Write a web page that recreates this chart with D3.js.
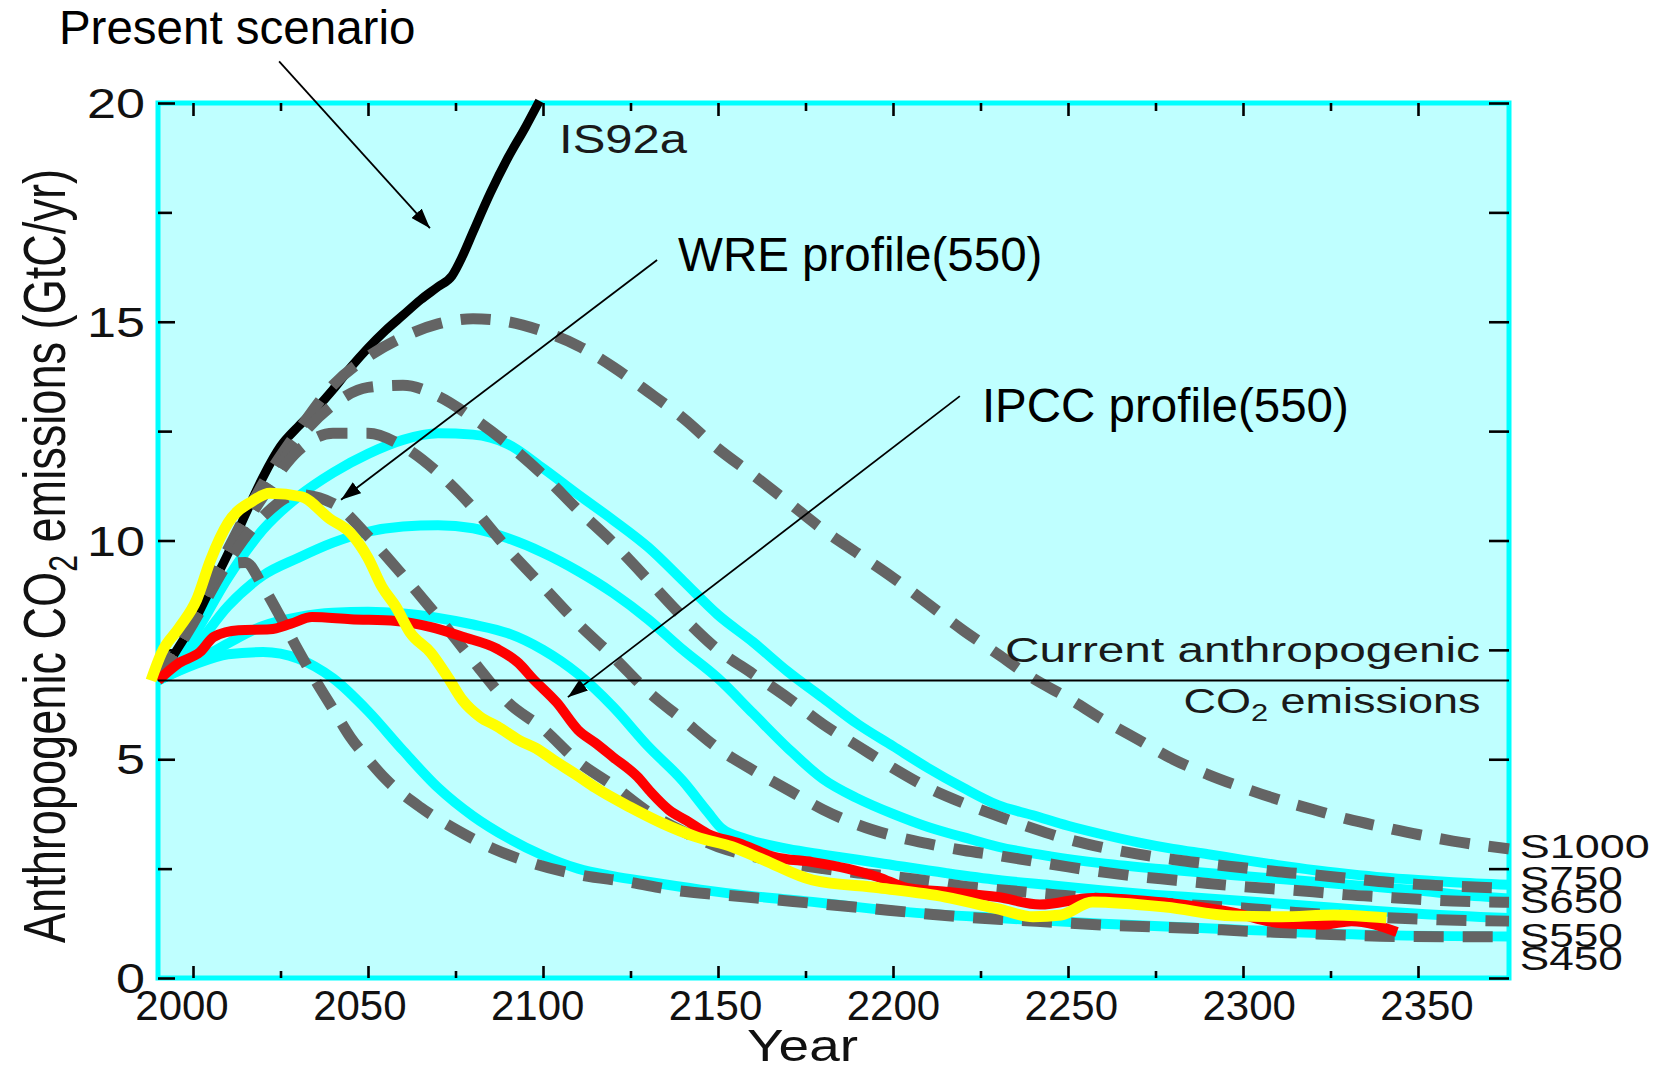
<!DOCTYPE html>
<html>
<head>
<meta charset="utf-8">
<script src="https://cdn.jsdelivr.net/npm/d3@7"></script>
<style>
  body { margin: 0; background: #ffffff; }
  svg { display: block; font-family: "Liberation Sans", Arial, Helvetica, sans-serif; }
</style>
</head>
<body>
<div id="chart"></div>
<script>
// values: [year, GtC/yr]

var is92a = [[1990,6.8],[1995,7.45],[2000,8.1],[2005,8.9],[2010,9.7],[2015,10.6],[2020,11.45],[2025,12.15],
  [2030,12.6],[2035,13.0],[2040,13.45],[2045,13.95],[2050,14.4],[2055,14.8],[2060,15.15],[2065,15.5],
  [2070,15.8],[2074,16.05],[2077,16.5],[2080,17.05],[2085,17.95],[2090,18.75],[2095,19.45],[2099,20.05]];

var s1000 = [[1990,6.8],[2000,8.2],[2010,9.8],[2020,11.3],[2030,12.5],[2040,13.55],[2050,14.2],[2060,14.65],
  [2070,14.95],[2080,15.07],[2090,15.0],[2100,14.78],[2110,14.45],[2120,13.97],[2130,13.4],[2140,12.8],
  [2150,12.1],[2160,11.5],[2170,10.88],[2180,10.25],[2190,9.7],[2200,9.15],[2210,8.55],[2220,7.95],
  [2230,7.4],[2240,6.85],[2250,6.4],[2260,5.9],[2270,5.45],[2280,5.0],[2290,4.65],[2300,4.35],[2310,4.08],
  [2320,3.85],[2330,3.63],[2340,3.45],[2350,3.28],[2360,3.13],[2376,2.95]];

var s750 = [[1990,6.8],[2000,8.2],[2010,9.75],[2020,11.1],[2030,12.3],[2040,13.1],[2050,13.5],[2060,13.55],
  [2070,13.3],[2080,12.8],[2090,12.2],[2100,11.5],[2110,10.7],[2120,9.95],[2130,9.1],[2140,8.25],[2150,7.5],
  [2160,6.95],[2170,6.4],[2180,5.8],[2190,5.3],[2200,4.8],[2210,4.35],[2220,4.0],[2230,3.7],[2240,3.42],
  [2250,3.17],[2260,2.98],[2270,2.83],[2280,2.71],[2290,2.61],[2300,2.52],[2310,2.43],[2320,2.36],
  [2330,2.28],[2340,2.2],[2350,2.14],[2360,2.1],[2376,2.05]];

var s650 = [[1990,6.8],[2000,8.2],[2010,9.7],[2020,11.0],[2030,12.05],[2040,12.45],[2050,12.45],[2060,12.15],
  [2070,11.55],[2080,10.75],[2090,9.8],[2100,8.95],[2110,8.1],[2120,7.35],[2130,6.55],[2140,5.9],[2150,5.25],
  [2160,4.75],[2170,4.3],[2180,3.85],[2190,3.5],[2200,3.25],[2210,3.07],[2220,2.92],[2230,2.8],[2240,2.67],
  [2250,2.54],[2260,2.42],[2270,2.32],[2280,2.24],[2290,2.16],[2300,2.09],[2310,2.03],[2320,1.97],
  [2330,1.9],[2340,1.85],[2350,1.8],[2360,1.76],[2376,1.73]];

var s550 = [[1990,6.8],[2000,8.1],[2010,9.5],[2020,10.55],[2030,11.05],[2040,10.85],[2050,10.1],[2060,9.2],
  [2070,8.25],[2080,7.25],[2090,6.3],[2100,5.7],[2110,4.95],[2120,4.4],[2130,3.8],[2140,3.35],[2150,3.0],
  [2160,2.78],[2170,2.62],[2180,2.5],[2190,2.4],[2200,2.32],[2210,2.22],[2220,2.1],[2233,2.0],[2247,1.9],
  [2260,1.81],[2275,1.72],[2290,1.65],[2300,1.6],[2315,1.5],[2330,1.42],[2343,1.37],[2356,1.33],[2376,1.3]];

var s450 = [[1990,6.8],[1995,7.7],[2000,8.4],[2005,9.0],[2010,9.45],[2015,9.5],[2020,8.95],[2025,8.25],
  [2030,7.5],[2035,6.8],[2040,6.15],[2045,5.5],[2050,5.0],[2055,4.55],[2065,3.9],[2075,3.4],[2086,2.95],
  [2098,2.6],[2111,2.35],[2124,2.2],[2138,2.0],[2151,1.9],[2165,1.8],[2178,1.7],[2192,1.6],[2205,1.5],
  [2219,1.4],[2233,1.33],[2247,1.27],[2260,1.21],[2274,1.17],[2287,1.13],[2301,1.07],[2315,1.03],
  [2329,0.98],[2343,0.95],[2376,0.94]];

var wre750 = [[1990,6.8],[2000,7.8],[2010,9.15],[2020,10.25],[2030,11.0],[2040,11.55],[2050,11.98],[2060,12.3],
  [2070,12.45],[2080,12.42],[2090,12.2],[2100,11.65],[2110,11.05],[2120,10.47],[2130,9.85],[2140,9.08],
  [2150,8.3],[2160,7.68],[2170,7.0],[2180,6.4],[2190,5.8],[2200,5.3],[2210,4.8],[2220,4.35],[2230,3.95],
  [2240,3.72],[2250,3.48],[2260,3.28],[2270,3.1],[2280,2.95],[2290,2.83],[2300,2.7],[2310,2.58],
  [2320,2.47],[2330,2.38],[2340,2.3],[2350,2.24],[2360,2.19],[2376,2.13]];

var wre650 = [[1990,6.8],[2000,7.5],[2010,8.5],[2020,9.2],[2030,9.6],[2040,9.95],[2050,10.2],[2060,10.32],
  [2070,10.35],[2080,10.28],[2090,10.05],[2100,9.72],[2110,9.3],[2120,8.8],[2130,8.2],[2140,7.5],[2150,6.85],
  [2160,6.05],[2170,5.25],[2180,4.55],[2190,4.1],[2200,3.75],[2210,3.45],[2220,3.22],[2230,3.0],[2245,2.78],
  [2260,2.62],[2275,2.5],[2290,2.4],[2305,2.3],[2320,2.2],[2335,2.1],[2350,2.0],[2362,1.9],[2376,1.82]];

var wre550 = [[1990,6.8],[2000,7.2],[2010,7.65],[2020,8.05],[2030,8.25],[2040,8.35],[2050,8.37],[2060,8.33],
  [2070,8.23],[2080,8.08],[2090,7.88],[2100,7.5],[2110,6.95],[2120,6.2],[2130,5.3],[2140,4.5],[2147,3.8],
  [2151,3.42],[2158,3.18],[2170,2.95],[2180,2.82],[2196,2.63],[2215,2.4],[2230,2.24],[2245,2.12],[2260,2.0],
  [2275,1.9],[2290,1.82],[2305,1.73],[2320,1.64],[2335,1.55],[2350,1.47],[2376,1.37]];

var wre450 = [[1990,6.8],[2000,7.15],[2010,7.4],[2020,7.45],[2030,7.3],[2040,6.85],[2050,6.1],[2060,5.2],
  [2070,4.35],[2080,3.7],[2090,3.2],[2100,2.8],[2110,2.5],[2120,2.33],[2130,2.2],[2145,2.02],[2160,1.87],
  [2177,1.74],[2190,1.62],[2205,1.5],[2230,1.37],[2260,1.24],[2300,1.1],[2340,0.98],[2376,0.95]];

// IPCC profile (550), red
var ipcc550 = [[1990,6.8],[1996,7.2],[2002,7.45],[2006,7.8],[2013,7.95],[2022,7.97],[2028,8.1],[2034,8.25],
  [2045,8.2],[2058,8.16],[2068,8.02],[2077,7.8],[2087,7.52],[2093,7.2],[2097,6.85],[2104,6.29],[2110,5.67],
  [2115,5.37],[2120,5.05],[2127,4.6],[2131,4.23],[2136,3.84],[2141,3.6],[2147,3.3],[2156,3.08],[2166,2.77],
  [2177,2.65],[2187,2.5],[2196,2.3],[2204,2.06],[2215,1.97],[2230,1.85],[2242,1.68],[2257,1.83],
  [2278,1.72],[2297,1.5],[2311,1.25],[2323,1.22],[2331,1.3],[2344,1.05]];

// WRE profile (550), yellow
var wreYellow = [[1988,6.8],[1991,7.43],[1996,8.0],[2001,8.64],[2005,9.55],[2010,10.4],[2017,10.9],[2022,11.08],
  [2031,11.0],[2039,10.5],[2045,10.17],[2050,9.6],[2054,8.94],[2058,8.48],[2062,7.9],[2068,7.43],[2073,6.85],
  [2077,6.35],[2082,5.97],[2087,5.75],[2093,5.44],[2098,5.25],[2103,4.98],[2110,4.62],[2115,4.35],
  [2125,3.9],[2134,3.54],[2144,3.22],[2154,3.0],[2163,2.7],[2177,2.24],[2196,2.06],[2215,1.85],[2230,1.58],
  [2240,1.4],[2248,1.44],[2257,1.74],[2278,1.62],[2297,1.42],[2311,1.4],[2326,1.44],[2341,1.37]];

var currentEmissions = 6.8;

var xMajor = [2000, 2050, 2100, 2150, 2200, 2250, 2300, 2350];
var xMinor = [2025, 2075, 2125, 2175, 2225, 2275, 2325];
var yMajor = [0, 5, 10, 15, 20];
var yMinor = [2.5, 7.5, 12.5, 17.5];

var sNames = ["S1000", "S750", "S650", "S550", "S450"];
// where each S label sits (GtC/yr), right of the frame
var sLabelY = [2.74, 2.01, 1.49, 0.71, 0.18];

// svg size and margins
var svgWidth = 1661;
var svgHeight = 1072;

var margin = { top: 103, right: 152, bottom: 94, left: 158 };
var width = svgWidth - margin.left - margin.right;
var height = svgHeight - margin.top - margin.bottom;

var svg = d3.select("#chart")
  .append("svg")
  .attr("width", svgWidth)
  .attr("height", svgHeight);

var x = d3.scaleLinear().domain([1990, 2376]).range([margin.left, margin.left + width]);
var y = d3.scaleLinear().domain([0, 20]).range([margin.top + height, margin.top]);
// the year labels in the figure sit on a slightly wider spread than the ticks
var xLabel = d3.scaleLinear().domain([2000, 2350]).range([182, 1427]);

// arrow head
svg.append("defs").append("marker")
  .attr("id", "arrow")
  .attr("viewBox", "0 0 20 14")
  .attr("refX", 20)
  .attr("refY", 7)
  .attr("markerWidth", 20)
  .attr("markerHeight", 14)
  .attr("markerUnits", "userSpaceOnUse")
  .attr("orient", "auto")
  .append("path")
  .attr("d", "M0,0 L20,7 L0,14 Z")
  .attr("fill", "#000");

// plot box
svg.append("rect")
  .attr("x", margin.left)
  .attr("y", margin.top)
  .attr("width", width)
  .attr("height", height)
  .attr("fill", "#bfffff")
  .attr("stroke", "#00ffff")
  .attr("stroke-width", 5);

// axes, ticks point inward
function styleAxis(g) {
  g.select(".domain").remove();
  g.selectAll(".tick line").attr("stroke", "#000").attr("stroke-width", 2.6);
}

svg.append("g")
  .attr("transform", `translate(0, ${margin.top + height})`)
  .call(d3.axisBottom(x).tickValues(xMajor).tickSize(-12).tickFormat(""))
  .call(styleAxis);

svg.append("g")
  .attr("transform", `translate(0, ${margin.top + height})`)
  .call(d3.axisBottom(x).tickValues(xMinor).tickSize(-7).tickFormat(""))
  .call(styleAxis);

svg.append("g")
  .attr("transform", `translate(0, ${margin.top})`)
  .call(d3.axisTop(x).tickValues(xMajor).tickSize(-13).tickFormat(""))
  .call(styleAxis);

svg.append("g")
  .attr("transform", `translate(0, ${margin.top})`)
  .call(d3.axisTop(x).tickValues(xMinor).tickSize(-8).tickFormat(""))
  .call(styleAxis);

svg.append("g")
  .attr("transform", `translate(${margin.left}, 0)`)
  .call(d3.axisLeft(y).tickValues(yMajor).tickSize(-17).tickFormat(""))
  .call(styleAxis);

svg.append("g")
  .attr("transform", `translate(${margin.left}, 0)`)
  .call(d3.axisLeft(y).tickValues(yMinor).tickSize(-14).tickFormat(""))
  .call(styleAxis);

svg.append("g")
  .attr("transform", `translate(${margin.left + width}, 0)`)
  .call(d3.axisRight(y).tickValues(yMajor.concat(yMinor)).tickSize(-20).tickFormat(""))
  .call(styleAxis);

// tick labels
svg.selectAll(".xlab")
  .data(xMajor)
  .enter().append("text")
  .attr("class", "xlab")
  .attr("x", d => xLabel(d))
  .attr("y", margin.top + height + 42)
  .attr("text-anchor", "middle")
  .attr("fill", "#111")
  .style("font-size", "42px")
  .text(d => d);

svg.selectAll(".ylab")
  .data(yMajor)
  .enter().append("text")
  .attr("class", "ylab")
  .attr("x", margin.left - 13)
  .attr("y", d => y(d))
  .attr("dy", "0.36em")
  .attr("text-anchor", "end")
  .attr("textLength", d => String(d).length * 29)
  .attr("lengthAdjust", "spacingAndGlyphs")
  .attr("fill", "#111")
  .style("font-size", "42px")
  .text(d => d);

// curves
var line = d3.line()
  .x(d => x(d[0]))
  .y(d => y(d[1]))
  .curve(d3.curveMonotoneX);

var cyanLines = [wre750, wre650, wre550, wre450];
var grayLines = [s1000, s750, s650, s550, s450];

svg.selectAll(".wre")
  .data(cyanLines)
  .enter().append("path")
  .attr("class", "wre")
  .attr("d", line)
  .attr("fill", "none")
  .attr("stroke", "#00ffff")
  .attr("stroke-width", 10);

svg.append("path")
  .datum(is92a)
  .attr("d", line)
  .attr("fill", "none")
  .attr("stroke", "#000")
  .attr("stroke-width", 9);

svg.selectAll(".stab")
  .data(grayLines)
  .enter().append("path")
  .attr("class", "stab")
  .attr("d", line)
  .attr("fill", "none")
  .attr("stroke", "#646464")
  .attr("stroke-width", 11)
  .attr("stroke-dasharray", "30,19");

svg.append("path")
  .datum(ipcc550)
  .attr("d", line)
  .attr("fill", "none")
  .attr("stroke", "#ff0000")
  .attr("stroke-width", 10)
  .attr("stroke-linejoin", "round");

svg.append("path")
  .datum(wreYellow)
  .attr("d", line)
  .attr("fill", "none")
  .attr("stroke", "#ffff00")
  .attr("stroke-width", 11)
  .attr("stroke-linejoin", "round");

// current anthropogenic emissions
svg.append("line")
  .attr("x1", x(1990)).attr("x2", x(2376))
  .attr("y1", y(currentEmissions)).attr("y2", y(currentEmissions))
  .attr("stroke", "#000")
  .attr("stroke-width", 2.2);

svg.append("text")
  .attr("x", x(2232)).attr("y", y(7.22))
  .attr("textLength", 475).attr("lengthAdjust", "spacingAndGlyphs")
  .attr("fill", "#1a1a1a").style("font-size", "35px")
  .text("Current anthropogenic");

var co2 = svg.append("text")
  .attr("x", x(2283)).attr("y", y(6.06))
  .attr("textLength", 297).attr("lengthAdjust", "spacingAndGlyphs")
  .attr("fill", "#1a1a1a").style("font-size", "35px");
co2.append("tspan").text("CO");
co2.append("tspan").attr("dy", 8).style("font-size", "24px").text("2");
co2.append("tspan").attr("dy", -8).text(" emissions");

svg.append("text")
  .attr("x", x(2104.6)).attr("y", y(18.86))
  .attr("textLength", 128).attr("lengthAdjust", "spacingAndGlyphs")
  .attr("fill", "#1a1a1a").style("font-size", "40px")
  .text("IS92a");

// S labels at right
svg.selectAll(".slabel")
  .data(sNames)
  .enter().append("text")
  .attr("class", "slabel")
  .attr("x", x(2379.1))
  .attr("y", (d, i) => y(sLabelY[i]))
  .attr("textLength", d => d.length === 5 ? 130 : 103)
  .attr("lengthAdjust", "spacingAndGlyphs")
  .attr("fill", "#111")
  .style("font-size", "33px")
  .text(d => d);

// annotations with arrows
var notes = [
  { text: "Present scenario", at: [1961.7, 21.35], from: [2024.6, 20.95], to: [2067.7, 17.14] },
  { text: "WRE profile(550)", at: [2138.6, 16.16], from: [2132.6, 16.41], to: [2042.3, 10.93] },
  { text: "IPCC profile(550)", at: [2225.4, 12.71], from: [2219.1, 13.3], to: [2107.1, 6.42] }
];

svg.selectAll(".note-line")
  .data(notes)
  .enter().append("line")
  .attr("x1", d => x(d.from[0])).attr("y1", d => y(d.from[1]))
  .attr("x2", d => x(d.to[0])).attr("y2", d => y(d.to[1]))
  .attr("stroke", "#000")
  .attr("stroke-width", 1.8)
  .attr("marker-end", "url(#arrow)");

svg.selectAll(".note")
  .data(notes)
  .enter().append("text")
  .attr("x", d => x(d.at[0]))
  .attr("y", d => y(d.at[1]))
  .attr("fill", "#000")
  .style("font-size", "47.5px")
  .text(d => d.text);

// axis titles
svg.append("text")
  .attr("x", 747).attr("y", 1061)
  .attr("textLength", 111).attr("lengthAdjust", "spacingAndGlyphs")
  .attr("fill", "#111").style("font-size", "44px")
  .text("Year");

var yTitle = svg.append("text")
  .attr("transform", "translate(65, 556) rotate(-90)")
  .attr("text-anchor", "middle")
  .attr("textLength", 774).attr("lengthAdjust", "spacingAndGlyphs")
  .attr("fill", "#111").style("font-size", "60px");
yTitle.append("tspan").text("Anthropogenic CO");
yTitle.append("tspan").attr("dy", 12).style("font-size", "40px").text("2");
yTitle.append("tspan").attr("dy", -12).text(" emissions (GtC/yr)");
</script>
</body>
</html>
